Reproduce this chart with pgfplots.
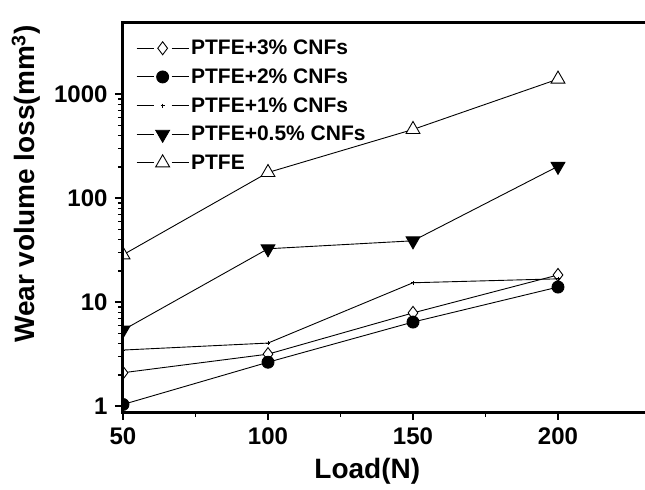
\documentclass[border=0pt]{standalone}
\usepackage{fontspec}
\setmainfont{Liberation Sans}
\usepackage{pgfplots}
\pgfplotsset{compat=1.18}
\begin{document}
\begin{tikzpicture}
\begin{axis}[
    scale only axis,
    width=522pt, height=389pt,
    xmin=50, xmax=230,
    ymode=log,
    ymin=0.88, ymax=4850,
    xtick={50,100,150,200},
    minor xtick={75,125,175},
    ytick={1,10,100,1000},
    yticklabels={1,10,100,1000},
    xticklabels={50,100,150,200},
    xtick pos=bottom, ytick pos=left,
    tick align=outside,
    major tick length=8pt,
    minor tick length=5pt,
    every major tick/.append style={line width=2pt, black},
    every minor tick/.append style={line width=1.5pt, black},
    axis line style={draw=none},
    /pgf/number format/assume math mode=true,
    xticklabel style={font=\bfseries\fontsize{24}{24}\selectfont, yshift=-4pt},
    yticklabel style={font=\bfseries\fontsize{24}{24}\selectfont, xshift=-4pt},
    xlabel={Load(N)},
    ylabel={Wear volume loss(mm$^{\mathbf{3}}$)},
    label style={font=\bfseries\fontsize{28}{28}\selectfont},
    xlabel style={at={(axis description cs:0.468,-0.170)}, anchor=base},
    ylabel style={at={(axis description cs:-0.186,0.586)}, anchor=center},
    clip marker paths=true,
    every axis plot/.append style={black, line width=0.9pt, mark options={solid, line width=0.9pt}},
    legend cell align=left,
    legend style={at={(axis description cs:0,1)}, anchor=north west,
        xshift=13pt, yshift=-15pt, draw=none, fill=none,
        font=\bfseries\fontsize{21}{21}\selectfont,
        row sep=8.5pt, inner sep=0pt},
    legend image code/.code={
        \draw[#1, mark=none] (0pt,0pt) -- (17pt,0pt) (35pt,0pt) -- (52pt,0pt);
        \draw[#1, only marks] plot coordinates {(26pt,0pt)};
    },
]
\addplot[mark=diamond*, mark size=6.5pt, mark options={fill=white}] coordinates {
    (50,2.1) (100,3.17) (150,7.9) (200,18.3)
};
\addplot[mark=*, mark size=6pt] coordinates {
    (50,1.04) (100,2.65) (150,6.45) (200,14)
};
\addplot[mark=+, mark size=2pt] coordinates {
    (50,3.47) (100,4.05) (150,15.4) (200,16.8)
};
\addplot[mark=triangle*, mark size=8pt, mark options={rotate=180, fill=black}] coordinates {
    (50,5.4) (100,32.7) (150,39) (200,203)
};
\addplot[mark=triangle*, mark size=8pt, mark options={fill=white}] coordinates {
    (50,28.6) (100,177) (150,459) (200,1400)
};
\legend{PTFE+3\% CNFs, PTFE+2\% CNFs, PTFE+1\% CNFs, PTFE+0.5\% CNFs, PTFE}
\end{axis}
\draw[line width=3pt] (current axis.south east) -- (current axis.south west) -- (current axis.north west) -- (current axis.north east);
\pgfresetboundingbox
\path (current axis.south west) +(-123pt,-77pt) (current axis.north east) +(0pt,23pt);
\end{tikzpicture}
\end{document}
